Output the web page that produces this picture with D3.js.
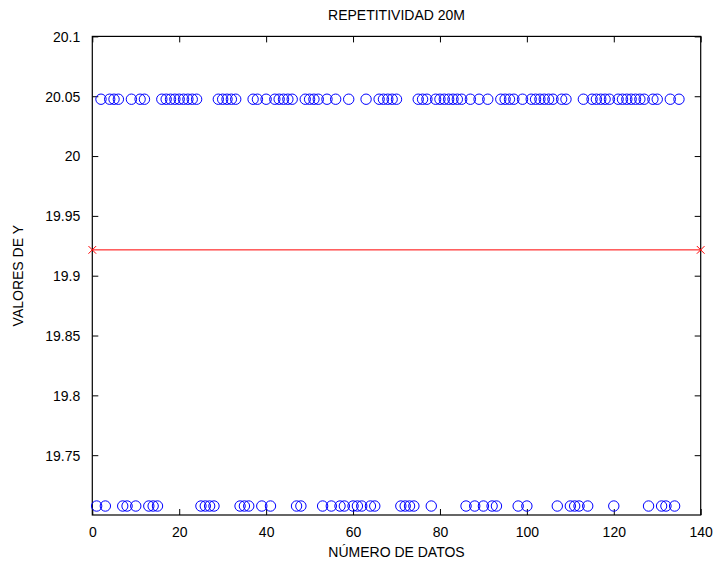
<!DOCTYPE html>
<html>
<head>
<meta charset="utf-8">
<script src="https://cdn.jsdelivr.net/npm/d3@7"></script>
<style>
  html, body { margin: 0; padding: 0; background: #fff; }
  svg { display: block; }
  text { font-family: "Liberation Sans", Arial, Helvetica, sans-serif; fill: #000; }
</style>
</head>
<body>
<svg id="chart" width="718" height="566"></svg>
<script>
// Two measured levels and which sample numbers fell on the low one
const highValue = 20.0475;
const lowValue = 19.7075;
const sampleCount = 135;
const lowSamples = [1, 3, 7, 8, 10, 13, 14, 15, 25, 26, 27, 28, 34, 35, 36, 39, 41, 47, 48,
  53, 55, 57, 58, 60, 61, 62, 64, 65, 71, 72, 73, 74, 78, 86, 88, 90, 92, 93, 98, 100,
  107, 110, 111, 112, 114, 120, 128, 131, 132, 134];
const xTicks = [0, 20, 40, 60, 80, 100, 120, 140];
const yTicks = [19.75, 19.8, 19.85, 19.9, 19.95, 20, 20.05, 20.1];
const xDomain = [0, 140];
const yDomain = [19.7, 20.1];

const lowSet = new Set(lowSamples);
const samples = d3.range(1, sampleCount + 1).map(n => ({ n, v: lowSet.has(n) ? lowValue : highValue }));
const mean = d3.mean(samples, d => d.v);

const svg = d3.select("#chart");
const L = 92.3, R = 700.7, T = 36.4, B = 515;
const x = d3.scaleLinear().domain(xDomain).range([L, R]);
const y = d3.scaleLinear().domain(yDomain).range([B, T]);

// frame
svg.append("rect").attr("x", L).attr("y", T).attr("width", R - L).attr("height", B - T)
  .attr("fill", "#fff").attr("stroke", "#000").attr("stroke-width", 1.2);

const tickLen = 6;
const fmt = d => String(+d.toFixed(2));

// x axis ticks (bottom and mirrored on top)
const gx = svg.append("g").attr("transform", `translate(0,${B})`)
  .call(d3.axisBottom(x).tickValues(xTicks).tickSizeInner(-tickLen).tickSizeOuter(0).tickPadding(12).tickFormat(fmt));
const gxTop = svg.append("g").attr("transform", `translate(0,${T})`)
  .call(d3.axisTop(x).tickValues(xTicks).tickSizeInner(-tickLen).tickSizeOuter(0).tickFormat(""));
// y axis ticks (left and mirrored on right)
const gy = svg.append("g").attr("transform", `translate(${L},0)`)
  .call(d3.axisLeft(y).tickValues(yTicks).tickSizeInner(-tickLen).tickSizeOuter(0).tickPadding(12).tickFormat(fmt));
const gyR = svg.append("g").attr("transform", `translate(${R},0)`)
  .call(d3.axisRight(y).tickValues(yTicks).tickSizeInner(-tickLen).tickSizeOuter(0).tickFormat(""));

[gx, gxTop, gy, gyR].forEach(g => {
  g.select(".domain").remove();
  g.selectAll("line").attr("stroke", "#000").attr("stroke-width", 1);
  g.selectAll("text").attr("font-size", 14).attr("font-family", "Liberation Sans, Arial, sans-serif").attr("fill", "#000");
});
gx.selectAll("text").attr("dy", "0.71em");
gy.selectAll("text").attr("dy", "0.35em");

// mean line with end markers
svg.append("line")
  .attr("x1", x(xDomain[0])).attr("x2", x(xDomain[1]))
  .attr("y1", y(mean)).attr("y2", y(mean))
  .attr("stroke", "#ff0000").attr("stroke-width", 1);
const cross = d3.symbol().type(d3.symbolX).size(40);
svg.selectAll(".endmark").data(xDomain).enter().append("path")
  .attr("class", "endmark")
  .attr("transform", d => `translate(${x(d)},${y(mean)})`)
  .attr("d", cross)
  .attr("fill", "none").attr("stroke", "#ff0000").attr("stroke-width", 1);

// sample circles
svg.selectAll(".pt").data(samples).enter().append("circle")
  .attr("class", "pt")
  .attr("cx", d => x(d.n)).attr("cy", d => y(d.v)).attr("r", 5.2)
  .attr("fill", "none").attr("stroke", "#0000ff").attr("stroke-width", 1);

// titles
svg.append("text").attr("x", (L + R) / 2).attr("y", 20).attr("text-anchor", "middle")
  .attr("font-size", 14).text("REPETITIVIDAD 20M");
svg.append("text").attr("x", (L + R) / 2).attr("y", 557).attr("text-anchor", "middle")
  .attr("font-size", 14).text("NÚMERO DE DATOS");
svg.append("text").attr("transform", `translate(23,${(T + B) / 2}) rotate(-90)`)
  .attr("text-anchor", "middle").attr("font-size", 14).text("VALORES DE Y");
</script>
</body>
</html>
